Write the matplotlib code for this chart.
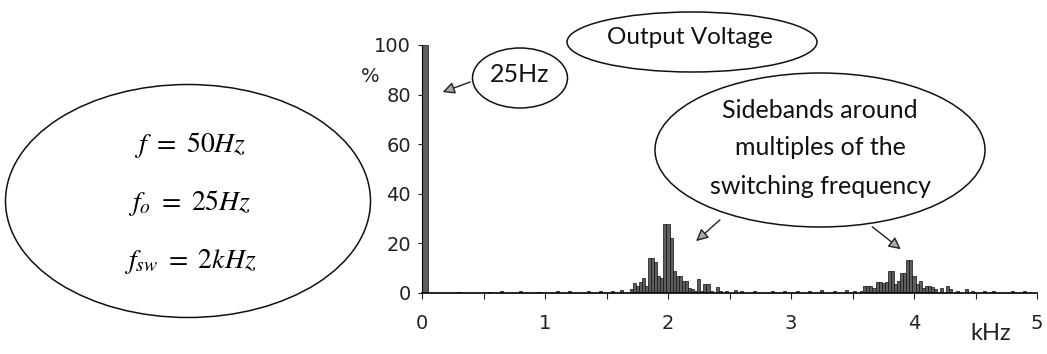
import matplotlib
matplotlib.use("Agg")
import matplotlib.pyplot as plt
from matplotlib.patches import Ellipse, FancyArrowPatch

W, H = 1047, 354

# ---- data (kHz, % of fundamental) ----
fund_freq = [0.025]
fund_amp = [100]

noise_freq = [0.30, 0.55, 0.65, 0.80, 0.95, 1.10, 1.20, 1.35, 1.45, 1.55, 1.62]
noise_amp = [0.5, 0.6, 0.8, 0.7, 0.6, 0.8, 0.7, 0.9, 0.8, 1.0, 1.2]

band2_freq = [1.700, 1.725, 1.750, 1.775, 1.800, 1.825, 1.850, 1.875, 1.900, 1.925,
              1.950, 1.975, 2.000, 2.025, 2.050, 2.075, 2.100, 2.125, 2.150, 2.175,
              2.200, 2.225, 2.250, 2.275, 2.300, 2.325, 2.350, 2.400, 2.425, 2.475]
band2_amp = [1.5, 4.0, 3.0, 4.5, 6.0, 3.0, 14.0, 14.0, 12.5, 7.0,
             6.0, 28.0, 28.0, 22.0, 9.0, 7.0, 7.0, 5.0, 5.0, 2.0,
             1.5, 1.0, 5.5, 1.0, 3.5, 3.5, 1.0, 2.5, 1.0, 1.0]

mid_freq = [2.55, 2.60, 2.70, 2.85, 2.95, 3.05, 3.15, 3.25, 3.35, 3.45, 3.52]
mid_amp = [1.2, 0.8, 1.0, 0.8, 1.0, 0.8, 1.0, 1.2, 1.0, 1.2, 1.0]

band4_freq = [3.575, 3.600, 3.625, 3.650, 3.675, 3.700, 3.725, 3.750, 3.775, 3.800,
              3.825, 3.850, 3.875, 3.900, 3.925, 3.950, 3.975, 4.000, 4.025, 4.050,
              4.075, 4.100, 4.125, 4.150, 4.175, 4.225, 4.275, 4.300, 4.350, 4.425,
              4.475, 4.575, 4.650, 4.800, 4.900]
band4_amp = [1.0, 3.0, 3.0, 3.0, 2.0, 4.5, 4.5, 4.0, 4.5, 9.0,
             9.0, 3.5, 5.0, 8.0, 8.0, 13.5, 13.5, 7.0, 3.5, 5.0,
             2.0, 3.0, 3.0, 2.5, 1.5, 2.0, 3.0, 1.5, 1.0, 1.5,
             1.0, 1.0, 1.0, 1.0, 1.0]

x_ticks = [0, 1, 2, 3, 4, 5]
y_ticks = [0, 20, 40, 60, 80, 100]


def P(x, y):
    """pixel (from top-left) -> figure fraction"""
    return (x / W, 1 - y / H)


plt.rcParams["mathtext.fontset"] = "stix"
fig = plt.figure(figsize=(W / 100, H / 100), dpi=100)
ax = fig.add_axes([422 / W, 1 - 293 / H, (1037 - 422) / W, 248 / H])

bar_kw = dict(color="#5e5e5e", edgecolor="#111111", linewidth=0.5, align="center")
ax.bar(fund_freq, fund_amp, width=0.05, **bar_kw)
for fx, fy in [(noise_freq, noise_amp), (band2_freq, band2_amp),
               (mid_freq, mid_amp), (band4_freq, band4_amp)]:
    ax.bar(fx, fy, width=0.025, **bar_kw)

ax.set_xlim(0, 5)
ax.set_ylim(0, 100)
ax.set_xticks(x_ticks)
ax.set_xticks([0.5, 1.5, 2.5, 3.5, 4.5], minor=True)
ax.set_yticks(y_ticks)
for s in ["top", "right"]:
    ax.spines[s].set_visible(False)
ax.spines["left"].set_linewidth(0.8)
ax.spines["bottom"].set_linewidth(1.2)
ax.tick_params(axis="x", which="both", direction="out", length=4, width=0.8,
               pad=11, labelsize=14, colors="#222222")
ax.tick_params(axis="y", direction="out", length=3, width=0.8, pad=5,
               labelsize=14, colors="#222222")
ax.patch.set_alpha(0)

# axis unit texts
fig.text(*P(370, 77), "%", ha="center", va="center", fontsize=14, color="#222222")
fig.text(*P(991, 333), "kHz", ha="center", va="center", fontsize=17,
         family="Lato", color="#222222")

# ---- annotation ellipses ----
ell_kw = dict(transform=fig.transFigure, fill=False, edgecolor="#111111", linewidth=1.1)

# left parameters ellipse
cx, cy = P(188, 201)
fig.add_artist(Ellipse((cx, cy), 365 / W, 233 / H, **ell_kw))
fig.text(*P(190, 145), r"$f\ =\ 50Hz$", ha="center", va="center", fontsize=20)
fig.text(*P(190, 203), r"$f_o\ =\ 25Hz$", ha="center", va="center", fontsize=20)
fig.text(*P(190, 262), r"$f_{sw}\ =\ 2kHz$", ha="center", va="center", fontsize=20)

# Output Voltage ellipse
cx, cy = P(692, 42)
fig.add_artist(Ellipse((cx, cy), 250 / W, 60 / H, **ell_kw))
fig.text(*P(690, 38), "Output Voltage", ha="center", va="center", fontsize=17.5,
         family="Lato", color="#111111")

# 25Hz ellipse
cx, cy = P(520, 78)
fig.add_artist(Ellipse((cx, cy), 95 / W, 60 / H, **ell_kw))
fig.text(*P(520, 75), "25Hz", ha="center", va="center", fontsize=18,
         family="Lato", color="#111111")

# Sidebands ellipse
cx, cy = P(820, 150)
fig.add_artist(Ellipse((cx, cy), 330 / W, 154 / H, **ell_kw))
for txt, yy in [("Sidebands around", 110), ("multiples of the", 148),
                ("switching frequency", 187)]:
    fig.text(*P(820, yy), txt, ha="center", va="center", fontsize=18,
             family="Lato", color="#111111")

# arrows
arr_kw = dict(transform=fig.transFigure, arrowstyle="-|>", mutation_scale=18,
              facecolor="#aaaaaa", edgecolor="#222222", linewidth=1.0)
for (x0, y0), (x1, y1) in [((473, 81), (440, 93)),
                           ((722, 218), (694, 243)),
                           ((870, 225), (903, 251))]:
    fig.add_artist(FancyArrowPatch(P(x0, y0), P(x1, y1), **arr_kw))

fig.savefig("out.png", dpi=100)
